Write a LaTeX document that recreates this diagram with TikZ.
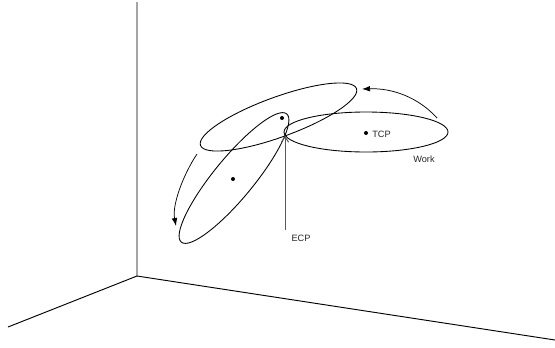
\documentclass[tikz,border=0pt]{standalone}
\usepackage{fontspec}
\setmainfont{Liberation Sans}
\usetikzlibrary{arrows.meta}
\tikzset{
  wall/.style={line width=0.7pt,black},
  orbit/.style={line width=0.65pt,black},
  dotmark/.style={circle,fill=black,inner sep=0pt,minimum size=3pt},
  lab/.style={font=\fontsize{6.9pt}{8pt}\selectfont,inner sep=0pt,text=black!85},
  swing/.style={line width=0.55pt,black,-{Latex[length=6pt,width=4.2pt]}},
  ecpline/.style={line width=0.75pt,black!65,-{Straight Barb[length=4pt,width=5.5pt]}}
}
\begin{document}
\begin{tikzpicture}[x=0.75pt,y=-0.75pt]
\useasboundingbox (0,0) rectangle (555,347);
\coordinate (corner) at (137,276);
\coordinate (top) at (137,2);
\coordinate (left) at (8,327);
\coordinate (right) at (555,340);
\draw[wall] (top) -- (corner) -- (left);
\draw[wall] (corner) -- (right);
\draw[orbit] (366,132) ellipse [x radius=82,y radius=20];
\draw[orbit,rotate around={20:(278.5,117)}] (278.5,117) ellipse [x radius=83,y radius=20];
\draw[orbit,rotate around={50.6:(234,178)}] (234,178) ellipse [x radius=83,y radius=20];
\node[dotmark] (d1) at (366,133) {};
\node[dotmark] (d2) at (282,118) {};
\node[dotmark] (d3) at (233,179) {};
\node[lab,anchor=west] (tcp) at (372,134) {TCP};
\node[lab] (work) at (424,159) {Work};
\node[lab] (ecp) at (301,238) {ECP};
\coordinate (ecpstart) at (285,230);
\coordinate (ecpend) at (285,136);
\draw[ecpline] (ecpstart) -- (ecpend);
\coordinate (a1) at (437,118);
\coordinate (a2) at (362,89);
\draw[swing] (a1) .. controls (418,97) and (392,88) .. (a2);
\coordinate (b1) at (197,154);
\coordinate (b2) at (176,226);
\draw[swing] (b1) .. controls (183,175) and (172,205) .. (b2);
\end{tikzpicture}
\end{document}
